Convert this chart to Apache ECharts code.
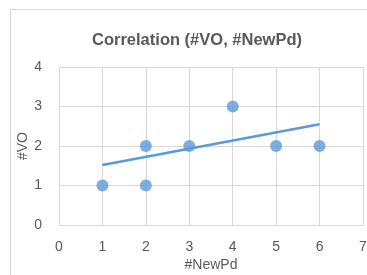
<!DOCTYPE html>
<html>
<head>
<meta charset="utf-8">
<script src="https://cdn.jsdelivr.net/npm/echarts@6/dist/echarts.min.js"></script>
<style>
  html, body { margin: 0; padding: 0; background: #fff; }
  #chart { width: 367px; height: 275px; }
</style>
</head>
<body>
<div id="chart"></div>
<script>
// scatter points (#NewPd, #VO)
var points = [[1, 1], [2, 2], [2, 1], [3, 2], [4, 3], [5, 2], [6, 2]]
// trendline ends
var trend = [[1, 1.52], [6, 2.55]]
var xTicks = [0, 7]
var yTicks = [0, 4]

var grey = '#595959'
var gridGrey = '#d9d9d9'
var blue = '#5b9bd5'

var chart = echarts.init(document.getElementById('chart'))
var option = {
  animation: false,
  backgroundColor: '#fff',
  graphic: [{
    type: 'rect',
    left: 8, top: 7,
    shape: { width: 420, height: 320 },
    style: { fill: 'none', stroke: gridGrey, lineWidth: 1 },
    silent: true
  }],
  title: {
    text: 'Correlation (#VO, #NewPd)',
    left: 192, top: 27, textAlign: 'center',
    textStyle: { fontFamily: 'Liberation Sans', fontSize: 16.5, fontWeight: 'bold', color: grey }
  },
  grid: { left: 59, top: 67, width: 304, height: 158, outerBoundsMode: 'none', containLabel: false },
  xAxis: {
    type: 'value', min: xTicks[0], max: xTicks[1], interval: 1,
    name: '#NewPd', nameLocation: 'middle', nameGap: 33, nameMoveOverlap: false,
    nameTextStyle: { fontFamily: 'Liberation Sans', fontSize: 14, color: grey },
    axisLine: { show: true, lineStyle: { color: gridGrey } },
    axisTick: { show: false },
    axisLabel: { fontFamily: 'Liberation Sans', fontSize: 14, color: grey, margin: 15 },
    splitLine: { show: true, lineStyle: { color: gridGrey, width: 1 } }
  },
  yAxis: {
    type: 'value', min: yTicks[0], max: yTicks[1], interval: 1,
    name: '#VO', nameLocation: 'middle', nameGap: 29, nameRotate: 90, nameMoveOverlap: false,
    nameTextStyle: { fontFamily: 'Liberation Sans', fontSize: 14, color: grey },
    axisLine: { show: false },
    axisTick: { show: false },
    axisLabel: { fontFamily: 'Liberation Sans', fontSize: 14, color: grey, margin: 17 },
    splitLine: { show: true, lineStyle: { color: gridGrey, width: 1 } }
  },
  series: [
    {
      type: 'line',
      data: trend,
      symbol: 'none',
      lineStyle: { color: blue, width: 2.5 },
      z: 2
    },
    {
      type: 'scatter',
      data: points,
      symbol: 'circle',
      symbolSize: 12,
      itemStyle: { color: blue },
      z: 3
    }
  ]
}
chart.setOption(option)
</script>
</body>
</html>
